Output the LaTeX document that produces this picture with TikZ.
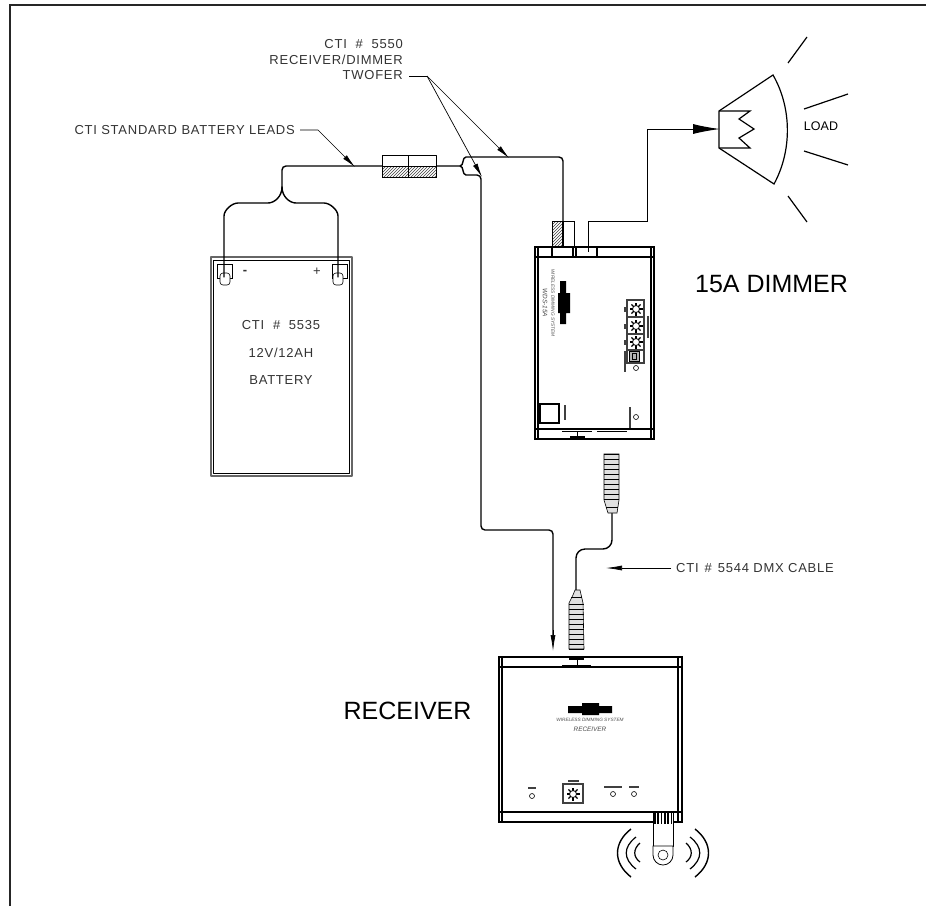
\documentclass[tikz,border=0pt]{standalone}
\usepackage{tkz-euclide}
\usepackage{fontspec}
\setmainfont{Liberation Sans}
\newfontfamily\cadfont[LetterSpace=5.8]{Liberation Sans}
\usetikzlibrary{arrows.meta,patterns}
\tikzset{%
  wire/.style={line width=1.4pt,rounded corners=6pt},%
  outline/.style={line width=1.2pt},%
  thinline/.style={line width=0.6pt},%
  leader/.style={line width=0.7pt,-{Latex[length=14pt,width=5pt]}},%
  hatchbox/.style={pattern=north east lines,pattern color=black!75},%
  cadtext/.style={inner sep=0pt,text=black!80,font=\cadfont\fontsize{13}{15}\selectfont},%
  bigtext/.style={inner sep=0pt,font=\fontsize{25}{30}\selectfont},%
  paneltext/.style={inner sep=0pt,text=black!70,font=\itshape\fontsize{#1}{#1}\selectfont},%
  smudge/.style={line width=2pt,black!75},%
}
\begin{document}
\begin{tikzpicture}[x=1pt,y=-1pt]
        \useasboundingbox (0,0) rectangle (942,906);%
        \draw[outline,black!85] (10,906) -- (10,5) -- (926,5);%

        % battery
        \tkzDefPoint(211,257){B_1} \tkzDefPoint(352,257){B_2}%
        \tkzDefPoint(352,476){B_3} \tkzDefPoint(211,476){B_4}%
        \tkzDefPoint(213.5,260){C_1} \tkzDefPoint(349.5,260){C_2}%
        \tkzDefPoint(349.5,473){C_3} \tkzDefPoint(213.5,473){C_4}%
        \tkzDrawPolygon[outline,black!60](B_1,B_2,B_3,B_4)%
        \tkzDrawPolygon[thinline,line width=0.9pt](C_1,C_2,C_3,C_4)%
        \foreach \x/\u in {217/220, 332/333} {%
          \draw[thinline] (\x,278) -- (\x,264) -- (\x+15,264) -- (\x+15,278) -- cycle;%
          \draw[thinline,fill=white,rounded corners=3pt] (\u,273) -- (\u,285) -- (\u+10,285) -- (\u+10,273) -- cycle; }%
        \node[cadtext,font=\cadfont\bfseries\fontsize{13}{15}\selectfont] (minus) at (245,272) {-};%
        \node[cadtext] (plus) at (317,272) {+};%
        \node[cadtext] (batnum) at (281,325) {CTI~~\#~~5535};%
        \node[cadtext] (batvolt) at (281,353) {12V/12AH};%
        \node[cadtext] (batname) at (281,380) {BATTERY};%

        % battery leads and twofer
        \draw[wire,line cap=round] (224,277) -- (224,222) .. controls (224,210) and (232,203) .. (244,203) -- (262,203) .. controls (274,203) and (282,197) .. (282,187);%
        \draw[wire,line cap=round] (338,277) -- (338,222) .. controls (338,210) and (330,203) .. (318,203) -- (302,203) .. controls (290,203) and (282,197) .. (282,187);%
        \draw[wire,rounded corners=4pt] (282,187) -- (282,166) -- (460,166);%
        \draw[wire,rounded corners=4pt] (460,166) .. controls (464,166) and (462,157) .. (470,157) -- (563,157) -- (563,248);%
        \draw[wire,rounded corners=4pt] (460,166) .. controls (464,166) and (462,175) .. (470,175) -- (481,175) -- (481,530) -- (553,530) -- (553,640);%
        \tkzDefPoint(382,155){F_1} \tkzDefPoint(436,155){F_2}%
        \tkzDefPoint(436,177){F_3} \tkzDefPoint(382,177){F_4}%
        \fill[white] (382,155) rectangle (436,177);%
        \draw[thinline,hatchbox] (382,166) rectangle (436,177);%
        \tkzDrawPolygon[thinline](F_1,F_2,F_3,F_4)%
        \draw[thinline] (382,166) -- (436,166) (408.5,155) -- (408.5,177);%
        \draw[line width=0.7pt,-{Latex[length=16pt,width=5pt]}] (553,630) -- (553,651);%

        % leaders
        \node[cadtext,anchor=east] (lblLeads) at (295,130) {CTI STANDARD BATTERY LEADS};%
        \coordinate (tipLeads) at (355,167);%
        \draw[leader] (lblLeads.east)+(5,0) -- (318,130) -- (tipLeads);%
        \node[cadtext,anchor=east] (lblNum) at (403,44) {CTI~~\#~~5550};%
        \node[cadtext,anchor=east] (lblTwo) at (403,60) {RECEIVER/DIMMER};%
        \node[cadtext,anchor=east] (lblFer) at (403,75) {TWOFER};%
        \coordinate (tipLow) at (482,177); \coordinate (tipHigh) at (509,158);%
        \draw[thinline] (lblFer.east)+(6,1) -- (427,76);%
        \draw[leader] (427,76) -- (tipLow);%
        \draw[leader] (427,76) -- (tipHigh);%

        % load
        \tkzDefPoint(719,111){L_1} \tkzDefPoint(773,75){L_2}%
        \tkzDefPoint(774,184){L_3} \tkzDefPoint(719,148){L_4}%
        \draw[outline] (L_4) -- (L_1) -- (L_2) .. controls (792,108) and (792,151) .. (L_3) -- cycle;%
        \draw[outline] (L_1) -- (750,111) -- (739,119) -- (754,129) -- (739,138) -- (750,148) -- (L_4);%
        \foreach \xa/\ya/\xb/\yb in {788/63/807/37, 804/109/848/94, 804/151/848/165, 788/196/807/222} {%
          \draw[outline] (\xa,\ya) -- (\xb,\yb); }%
        \node[inner sep=0pt,font=\fontsize{12.5}{15}\selectfont] (lblLoad) at (821,126) {LOAD};%
        \draw[line width=1pt,-{Latex[length=27pt,width=10pt]}] (588,247) -- (588,221) -- (647,221) -- (647,129) -- (720,129);%

        % dimmer
        \draw[outline] (535,247) rectangle (654,439);%
        \draw[outline] (538,247) -- (538,439) (651,247) -- (651,439);%
        \draw[outline] (535,257) -- (654,257) (535,429) -- (654,429);%
        \fill[white] (552,221) rectangle (574,247);%
        \draw[thinline] (552,221) rectangle (574,247);%
        \draw[thinline,hatchbox] (552,221) rectangle (563,247);%
        \draw[wire] (563,221) -- (563,247);%
        \draw[outline,fill=white] (552,247) rectangle (573,257);%
        \draw[outline,fill=white] (576,247) rectangle (597,257);%
        \draw[line width=1pt] (588,247) -- (588,252);%
        \node[bigtext] (lblDimmer) at (771.5,284) {15A DIMMER};%
        \node[paneltext=4.7,rotate=-90] (dimSys) at (553,303) {WIRELESS DIMMING SYSTEM};%
        \node[paneltext=6.4,rotate=-90] (dimModel) at (545,303) {WDS-15A};%
        \fill[black] (560,281) rectangle (566,324) (558,293) rectangle (570,313);%
        \draw[outline,black!75] (627,300) rectangle (644,363);%
        \foreach \y in {317,334,350} { \draw[outline,black!75] (627,\y) -- (644,\y); }%
        \foreach \y in {309,326,342} {%
          \foreach \a in {0,45,...,315} { \draw[line width=1.1pt] (636,\y) -- ++(\a:6.5); }%
          \draw[line width=0.8pt,fill=white] (636,\y) circle (3.5);%
          \draw[smudge] (625,\y-2) -- (625,\y+3); }%
        \draw[thinline,fill=black!30] (629,351) rectangle (639,361);%
        \draw[thinline] (632,353) rectangle (636,359);%
        \draw[thinline] (636,368) circle (2.5) (636,417) circle (2.5);%
        \draw[smudge] (625,351) -- (625,372) (648,316) -- (648,338);%
        \draw[smudge] (565,405) -- (565,420) (630,407) -- (630,428);%
        \draw[outline] (540,404) rectangle (559,423);%
        \draw[thinline] (562,431) -- (592,431) (597,431) -- (627,431);%
        \draw[line width=1pt] (577,431) -- (577,437);%
        \draw[outline] (570,437) -- (585,437);%

        % dmx cable
        \draw[wire,rounded corners=9pt] (612,513) -- (612,549) -- (576,549) -- (576,590);%
        \draw[thinline,fill=black!12] (604,454) -- (604,500) -- (608,513) -- (617,513) -- (619,500) -- (619,454) -- cycle;%
        \foreach \y in {454,459,...,500} { \draw[line width=0.7pt] (604,\y) -- (619,\y); }%
        \draw[thinline] (606,507) -- (618,507);%
        \draw[thinline,fill=black!12] (573,595) -- (575,590) -- (580,590) -- (583,603) -- (584,649) -- (569,649) -- (569,603) -- cycle;%
        \foreach \y in {604,609,...,649} { \draw[line width=0.7pt] (569,\y) -- (584,\y); }%
        \draw[thinline] (571,597) -- (582,597);%
        \node[cadtext,anchor=west] (lblDmx) at (676,568) {CTI\hspace{6pt}\#\hspace{6pt}5544 DMX CABLE};%
        \coordinate (tipDmx) at (606,568);%
        \draw[line width=0.7pt,-{Latex[length=16pt,width=5pt]}] (lblDmx.west)+(-5,0) -- (tipDmx);%

        % receiver
        \draw[outline] (499,657) rectangle (682,822);%
        \draw[outline] (502,657) -- (502,822) (678,657) -- (678,822);%
        \draw[outline] (499,667) -- (682,667) (499,812) -- (682,812);%
        \draw[outline] (569,659) -- (584,659);%
        \draw[line width=1pt] (577,659) -- (577,665);%
        \draw[thinline] (562,665) -- (591,665);%
        \node[bigtext] (lblRecv) at (407.5,711) {RECEIVER};%
        \fill[black] (568,706) rectangle (612,713) (582,703) rectangle (599,715);%
        \node[paneltext=4.7] (recvSys) at (590,720) {WIRELESS DIMMING SYSTEM};%
        \node[paneltext=6.4] (recvName) at (590,729) {RECEIVER};%
        \draw[thinline] (532,796) circle (2.5) (613,794) circle (2.5) (634,794) circle (2.5);%
        \draw[smudge] (528,788) -- (536,788) (604,787) -- (622,787) (629,787) -- (639,787) (568,781) -- (579,781);%
        \draw[outline,black!75] (563,784) rectangle (583,803);%
        \foreach \a in {0,45,...,315} { \draw[line width=1.1pt] (573,794) -- ++(\a:6.5); }%
        \draw[line width=0.8pt,fill=white] (573,794) circle (3.5);%

        % antenna
        \draw[thinline,fill=white] (653,812) rectangle (673,846);%
        \draw[line width=0.8pt,fill=white] (653,846) -- (653,855) arc[start angle=180,end angle=0,radius=10] -- (673,846) -- cycle;%
        \draw[thinline] (663,855) circle (5);%
        \foreach \x in {655,658.3,...,672} { \draw[line width=1.7pt] (\x,812) -- (\x,824); }%
        \foreach \sg in {-1,1} {%
          \begin{scope}[shift={(663,853)},xscale=\sg]
            \draw[line width=1.4pt] (-32,-24) .. controls (-50,-10) and (-50,10) .. (-32,24);%
            \draw[outline] (-27,-16) .. controls (-40,-6) and (-40,6) .. (-27,16);%
            \draw[outline] (-23,-10) .. controls (-30,-4) and (-30,4) .. (-23,9);%
          \end{scope} }%
\end{tikzpicture}
\end{document}
